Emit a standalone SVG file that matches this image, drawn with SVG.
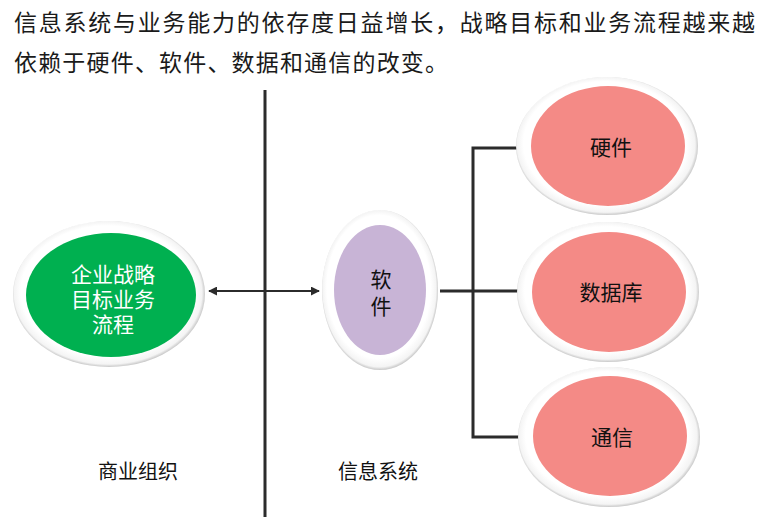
<svg xmlns="http://www.w3.org/2000/svg" width="766" height="522" viewBox="0 0 766 522">
<style>
text{font-family:"Noto Sans CJK SC","Noto Sans",sans-serif;}
.title{font-size:23px;fill:#1a1a1a;}
.lbl{font-size:20px;fill:#111;text-anchor:middle;}
.node{font-size:21px;fill:#111;text-anchor:middle;}
.white{font-size:21px;fill:#fff;text-anchor:middle;}
.ring{fill:url(#ringG);}
.line{stroke:#2b2b2b;stroke-width:3;fill:none;}
.arr{stroke:#2b2b2b;stroke-width:2;fill:none;}
</style>
<defs>
<radialGradient id="ringG" cx="0.5" cy="0.5" r="0.52" fx="0.42" fy="0.36">
<stop offset="0.86" stop-color="#ffffff"/>
<stop offset="0.94" stop-color="#f4f4f4"/>
<stop offset="1" stop-color="#9a9a9a"/>
</radialGradient>
<marker id="ah" viewBox="0 0 10 10" refX="9" refY="5" markerWidth="4.5" markerHeight="4.5" orient="auto-start-reverse">
<path d="M0,0 L10,5 L0,10 z" fill="#2b2b2b"/>
</marker>
</defs>
<text class="title" x="14" y="31" textLength="741" lengthAdjust="spacing">信息系统与业务能力的依存度日益增长，战略目标和业务流程越来越</text>
<text class="title" x="14" y="71" textLength="434" lengthAdjust="spacing">依赖于硬件、软件、数据和通信的改变。</text>
<g id="connectors">
<line class="line" x1="265" y1="90" x2="265" y2="517"/>
<line class="arr" x1="209" y1="291" x2="319" y2="291" marker-start="url(#ah)" marker-end="url(#ah)"/>
<line class="line" x1="440" y1="291" x2="473" y2="291"/>
<polyline class="line" points="519,148 473,148 473,437 519,437"/>
<line class="line" x1="473" y1="291" x2="519" y2="291"/>
</g>
<g id="business">
<ellipse class="ring" cx="109" cy="294" rx="96" ry="73"/>
<ellipse cx="111" cy="295" rx="85" ry="62" fill="#00b050"/>
<text class="white"><tspan x="113" y="282">企业战略</tspan><tspan x="113" y="307">目标业务</tspan><tspan x="113" y="332">流程</tspan></text>
</g>
<g id="software">
<ellipse class="ring" cx="380" cy="290" rx="58" ry="80"/>
<ellipse cx="380" cy="290" rx="46" ry="65" fill="#c8b4d6"/>
<text class="node"><tspan x="381" y="287">软</tspan><tspan x="381" y="314">件</tspan></text>
</g>
<g id="hardware">
<ellipse class="ring" cx="607" cy="146" rx="91" ry="69"/>
<ellipse cx="608" cy="146" rx="77" ry="60" fill="#f48a86"/>
<text class="node" x="611" y="155">硬件</text>
</g>
<g id="database">
<ellipse class="ring" cx="608" cy="292" rx="91" ry="70"/>
<ellipse cx="609" cy="292" rx="77" ry="60" fill="#f48a86"/>
<text class="node" x="611" y="300">数据库</text>
</g>
<g id="comm">
<ellipse class="ring" cx="609" cy="437" rx="91" ry="70"/>
<ellipse cx="610" cy="436" rx="77" ry="60" fill="#f48a86"/>
<text class="node" x="612" y="445">通信</text>
</g>
<text class="lbl" x="138" y="479">商业组织</text>
<text class="lbl" x="378" y="479">信息系统</text>
</svg>
